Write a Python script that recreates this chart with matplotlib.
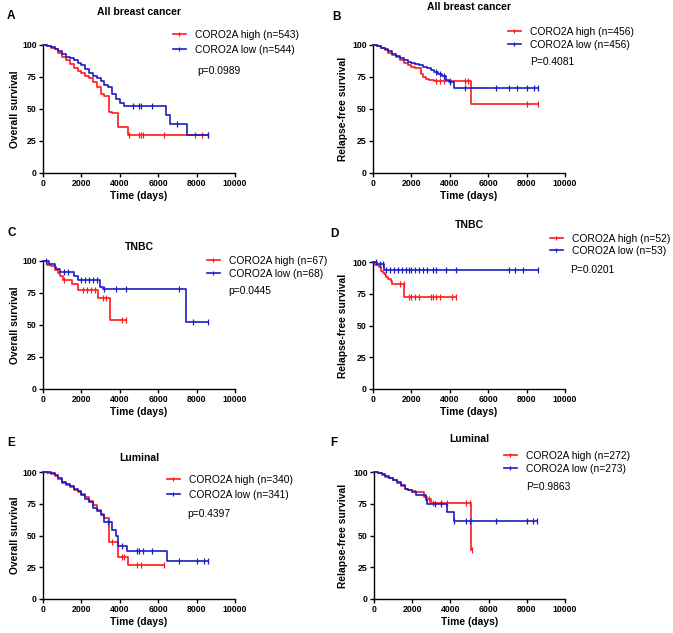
import numpy as np
import matplotlib
matplotlib.use("Agg")
import matplotlib.pyplot as plt
from matplotlib.lines import Line2D

plt.rcParams['font.family'] = ['Liberation Sans', 'DejaVu Sans']

# ---- data ----
# A: overall survival, all breast cancer
a_high_t = [0, 200, 400, 600, 800, 1000, 1200, 1400, 1600, 1800, 2000, 2200, 2400, 2600, 2800, 3000, 3200, 3440, 3600, 3910, 4430]
a_high_s = [100, 99.5, 98, 96.5, 94, 91, 88, 85, 82, 80, 78, 76, 74.5, 71, 67, 62, 60.5, 48, 47, 36, 30]
a_high_c = [4500, 5000, 5100, 5200, 6300, 7900, 8300, 8600]
a_low_t = [0, 200, 400, 600, 800, 1000, 1200, 1400, 1600, 1800, 2000, 2200, 2400, 2600, 2800, 3000, 3200, 3400, 3600, 3800, 4000, 4200, 6400, 6600, 7500]
a_low_s = [100, 99.5, 98.5, 97, 95.5, 93, 91, 90, 88, 86, 84, 81, 78, 76, 74, 72, 69, 67, 62, 58, 55, 52, 45, 38.5, 29.5]
a_low_c = [4700, 5000, 5100, 5700, 7000, 8600]

# B: relapse-free survival, all breast cancer
b_high_t = [0, 200, 400, 600, 800, 1000, 1200, 1400, 1600, 1800, 2000, 2200, 2480, 2600, 2750, 2900, 3200, 5100]
b_high_s = [100, 99, 97.5, 96, 94, 92, 90.5, 88.5, 86, 84, 82.5, 82, 77, 75, 73.5, 72.5, 72, 54]
b_high_c = [3300, 3500, 3700, 4000, 4800, 4950, 8000, 8600]
b_low_t = [0, 200, 400, 600, 800, 1000, 1200, 1400, 1600, 1800, 2000, 2200, 2400, 2600, 2800, 3000, 3200, 3400, 3600, 3800, 3950, 4200]
b_low_s = [100, 99.2, 98, 96.8, 95, 93, 91.5, 90, 88.5, 87, 85.7, 85, 84, 83, 82, 80.5, 79, 77.5, 76, 73, 71, 66.5]
b_low_c = [3300, 3500, 3700, 4000, 4800, 6400, 7100, 7500, 8000, 8400, 8600]

# C: overall survival, TNBC
c_high_t = [0, 200, 400, 600, 800, 900, 1040, 1530, 1830, 2870, 3480]
c_high_s = [100, 97, 96, 93, 91, 88, 85, 82, 77, 71, 53.8]
c_high_c = [1100, 2100, 2300, 2500, 2700, 3100, 3300, 4100, 4300]
c_low_t = [0, 300, 600, 700, 900, 1600, 1800, 2950, 3100, 7450]
c_low_s = [100, 97.5, 95, 93.5, 91.5, 88.5, 85, 79.5, 78.5, 52.7]
c_low_c = [150, 1100, 1300, 2000, 2200, 2400, 2600, 2800, 3200, 3800, 4300, 7100, 7800, 8600]

# D: relapse-free survival, TNBC
d_high_t = [0, 120, 300, 400, 500, 600, 700, 800, 950, 1000, 1620]
d_high_s = [100, 98, 96, 93, 91.5, 90, 88, 86.5, 85, 82.5, 72.4]
d_high_c = [1400, 1600, 1900, 2000, 2200, 2400, 3000, 3100, 3300, 3500, 4100, 4300]
d_low_t = [0, 200, 560]
d_low_s = [100, 98.5, 93.9]
d_low_c = [150, 350, 500, 700, 900, 1100, 1300, 1500, 1700, 1900, 2000, 2200, 2400, 2600, 2800,
           3100, 3300, 3800, 4300, 7100, 7400, 7800, 8600]

# E: overall survival, luminal
e_high_t = [0, 200, 400, 600, 800, 1000, 1200, 1400, 1600, 1800, 2000, 2200, 2400, 2600, 2800, 3000, 3200, 3420, 3900, 4430]
e_high_s = [100, 99.5, 98.5, 97, 94.5, 91.5, 90, 88, 86, 84, 82.5, 80, 77.5, 74, 70, 66.8, 64, 45, 33, 26.7]
e_high_c = [3600, 4100, 4200, 4900, 5100, 6300]
e_low_t = [0, 200, 400, 600, 800, 1000, 1200, 1400, 1600, 1800, 2000, 2200, 2400, 2600, 2800, 3000, 3200, 3600, 3800, 3900, 4400, 6450]
e_low_s = [100, 99.7, 99, 97.5, 95, 92, 90.5, 89, 87, 85, 82, 79, 76, 72, 69, 66, 61, 54, 50, 42, 38, 30]
e_low_c = [3400, 4100, 4900, 5000, 5200, 5700, 7100, 8000, 8400, 8600]

# F: relapse-free survival, luminal
f_high_t = [0, 200, 400, 600, 800, 1000, 1200, 1400, 1600, 1800, 2000, 2200, 2600, 2800, 3000, 5100]
f_high_s = [100, 99, 97.5, 96, 95, 93.5, 91.5, 89, 87, 86, 85, 84, 80, 78.5, 75.5, 38.5]
f_high_c = [2900, 3100, 3500, 3800, 4800, 5000, 5150]
f_low_t = [0, 200, 400, 600, 800, 1000, 1200, 1400, 1600, 1800, 2000, 2200, 2500, 2700, 2800, 3800, 4200]
f_low_s = [100, 99.5, 98.5, 97, 95.5, 94, 92, 89.5, 87, 85.5, 84, 82, 81.7, 77.7, 75, 68.6, 61.3]
f_low_c = [3200, 3500, 4200, 4800, 5000, 6400, 8000, 8300, 8550]

letters = ["A", "B", "C", "D", "E", "F"]
titles = ["All breast cancer", "All breast cancer", "TNBC", "TNBC", "Luminal", "Luminal"]
ylabels = ["Overall survival", "Relapse-free survival"] * 3
high_n = [543, 456, 67, 52, 340, 272]
low_n = [544, 456, 68, 53, 341, 273]
pvals = ["p=0.0989", "P=0.4081", "p=0.0445", "P=0.0201", "p=0.4397", "P=0.9863"]
xticks = [0, 2000, 4000, 6000, 8000, 10000]
yticks = [0, 25, 50, 75, 100]

curves = [
    (a_high_t, a_high_s, a_high_c, a_low_t, a_low_s, a_low_c),
    (b_high_t, b_high_s, b_high_c, b_low_t, b_low_s, b_low_c),
    (c_high_t, c_high_s, c_high_c, c_low_t, c_low_s, c_low_c),
    (d_high_t, d_high_s, d_high_c, d_low_t, d_low_s, d_low_c),
    (e_high_t, e_high_s, e_high_c, e_low_t, e_low_s, e_low_c),
    (f_high_t, f_high_s, f_high_c, f_low_t, f_low_s, f_low_c),
]

RED = "#ff1a1a"
BLUE = "#1c1cc4"
W, H = 673, 633

# layout in pixels: axes (left, top, right, bottom), title (x, y), letter (x, y),
# legend (handle x, row1 y, label spacing), p text (x, y), ylabel x
layout = [
    dict(ax=(43, 45, 235, 173), title=(139, 12), letter=(7, 16), leg=(173, 36, 0.45), p=(197, 71), yl=15),
    dict(ax=(373, 45, 565, 173), title=(469, 7), letter=(332, 17), leg=(508, 33, 0.25), p=(530, 62), yl=343),
    dict(ax=(43, 261, 235, 389), title=(139, 247), letter=(7, 233), leg=(207, 262, 0.3), p=(228, 291), yl=15),
    dict(ax=(373, 262, 565, 389), title=(469, 225), letter=(330, 234), leg=(550, 240, 0.2), p=(570, 270), yl=343),
    dict(ax=(43, 472, 235, 599), title=(139, 458), letter=(7, 443), leg=(167, 481, 0.45), p=(187, 514), yl=15),
    dict(ax=(374, 472, 565, 599), title=(469, 439), letter=(330, 443), leg=(504, 457, 0.3), p=(526, 487), yl=343),
]


def fx(x):
    return x / W


def fy(y):
    return 1 - y / H


def km(ax, t, s, cens, color):
    tend = max(cens[-1], t[-1])
    tt = list(t) + [tend]
    ss = list(s) + [s[-1]]
    ax.step(tt, ss, where="post", color=color, lw=1.2, clip_on=False, zorder=3)
    idx = np.searchsorted(t, cens, side="right") - 1
    cy = np.array(s)[idx]
    ax.plot(cens, cy, ls="none", marker="|", ms=3.8, mew=0.9, color=color, clip_on=False, zorder=3)


fig = plt.figure(figsize=(W / 100, H / 100), dpi=100)

for i in range(6):
    L = layout[i]
    l, t, r, b = L["ax"]
    ax = fig.add_axes([fx(l), fy(b), (r - l) / W, (b - t) / H])
    ht, hs, hc, lt, ls_, lc = curves[i]
    km(ax, ht, hs, hc, RED)
    km(ax, lt, ls_, lc, BLUE)

    ax.set_xlim(0, 10000)
    ax.set_ylim(0, 100)
    ax.set_xticks(xticks)
    ax.set_yticks(yticks)
    ax.spines["top"].set_visible(False)
    ax.spines["right"].set_visible(False)
    for sp in ["left", "bottom"]:
        ax.spines[sp].set_linewidth(1.0)
    ax.tick_params(length=3, width=1.0, labelsize=6.3, pad=1.5)
    plt.setp(ax.get_xticklabels(), fontweight="bold")
    plt.setp(ax.get_yticklabels(), fontweight="bold")
    ax.set_xlabel("Time (days)", fontsize=7.4, fontweight="bold", labelpad=2)

    fig.text(fx(L["yl"]), fy((t + b) / 2), ylabels[i], rotation=90, fontsize=7.4,
             fontweight="bold", ha="center", va="center")
    fig.text(fx(L["title"][0]), fy(L["title"][1]), titles[i], fontsize=7.5,
             fontweight="bold", ha="center", va="center")
    fig.text(fx(L["letter"][0]), fy(L["letter"][1]), letters[i], fontsize=8.5,
             fontweight="bold", ha="left", va="center")

    handles = [Line2D([], [], color=RED, lw=1.2, marker="|", ms=3.5, mew=0.9),
               Line2D([], [], color=BLUE, lw=1.2, marker="|", ms=3.5, mew=0.9)]
    labels = ["CORO2A high (n=%d)" % high_n[i], "CORO2A low (n=%d)" % low_n[i]]
    hx, hy, sp = L["leg"]
    ax.legend(handles, labels, loc="upper left", bbox_to_anchor=(fx(hx), fy(hy - 6)),
              bbox_transform=fig.transFigure, frameon=False, fontsize=7.4,
              handlelength=1.25, handletextpad=0.9, borderpad=0, borderaxespad=0,
              labelspacing=sp, numpoints=1)
    fig.text(fx(L["p"][0]), fy(L["p"][1]), pvals[i], fontsize=7.4, ha="left", va="center")

fig.savefig("out.png", dpi=100)
